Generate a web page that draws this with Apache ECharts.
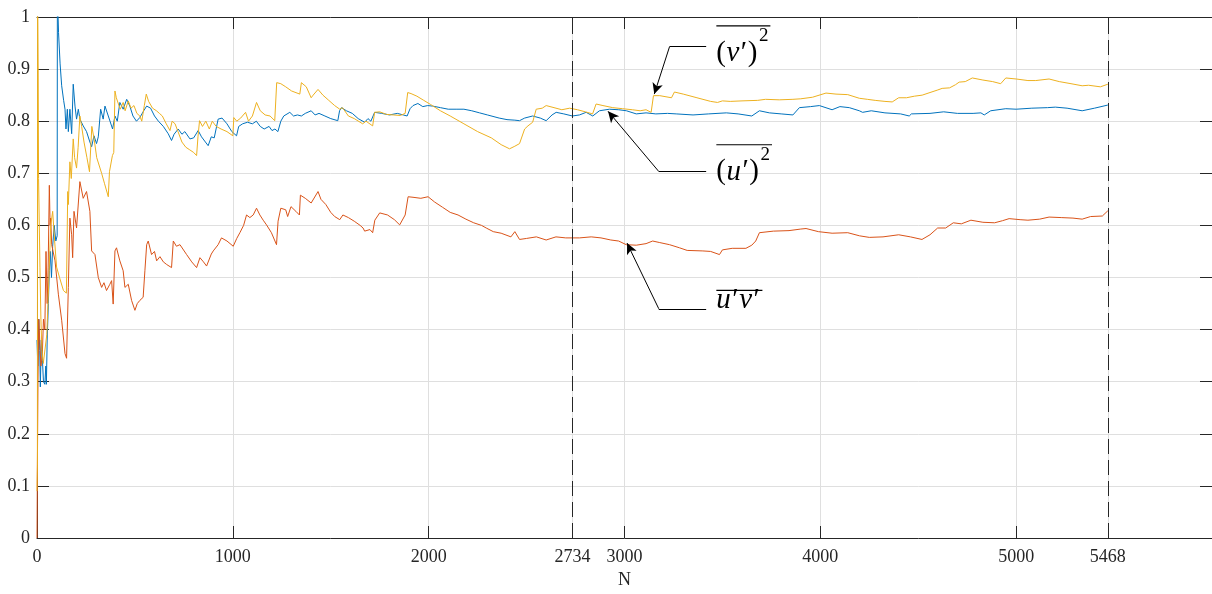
<!DOCTYPE html>
<html>
<head>
<meta charset="utf-8">
<script src="https://cdn.jsdelivr.net/npm/echarts@6/dist/echarts.min.js"></script>
<style>
  html, body { margin: 0; padding: 0; background: #ffffff; }
  #chart { width: 1212px; height: 594px; }
</style>
</head>
<body>
<div id="chart"></div>
<script>
// Tick positions on both axes
const xTicks = [0, 1000, 2000, 2734, 3000, 4000, 5000, 5468];
const yTicks = [0, 0.1, 0.2, 0.3, 0.4, 0.5, 0.6, 0.7, 0.8, 0.9, 1];
// Vertical reference lines (half and full sample count)
const markerN = [2734, 5468];

// Running mean of (u')^2 versus number of samples N
const uuData = [
  [0,0.38],[4,0.33],[9,0.42],[14,0.36],[17,0.29],[22,0.38],[28,0.34],[33,0.3],[40,0.295],[45,0.33],
  [48,0.295],[52,0.38],[58,0.45],[63,0.513],[68,0.55],[74,0.5],[80,0.56],[88,0.6],[96,0.57],[103,0.58],
  [104,1.05],[110,0.97],[118,0.91],[126,0.868],[136,0.84],[143,0.823],[148,0.785],[155,0.823],[160,0.78],[168,0.823],
  [177,0.776],[185,0.871],[194,0.829],[202,0.804],[211,0.823],[219,0.804],[236,0.791],[253,0.78],[270,0.76],[279,0.751],
  [291,0.772],[304,0.757],[313,0.77],[325,0.823],[338,0.804],[347,0.829],[364,0.81],[386,0.785],[398,0.81],[410,0.8],
  [423,0.836],[440,0.823],[458,0.842],[474,0.829],[490,0.81],[508,0.8],[525,0.807],[545,0.82],[560,0.829],[580,0.825],
  [600,0.81],[620,0.8],[645,0.79],[670,0.776],[687,0.763],[700,0.775],[721,0.785],[740,0.775],[755,0.78],[781,0.766],
  [800,0.768],[823,0.782],[840,0.77],[860,0.76],[874,0.753],[890,0.77],[905,0.768],[925,0.804],[945,0.806],[970,0.795],
  [995,0.78],[1019,0.772],[1030,0.79],[1050,0.795],[1075,0.798],[1100,0.795],[1120,0.8],[1140,0.79],[1160,0.785],[1185,0.79],
  [1200,0.782],[1215,0.785],[1230,0.78],[1245,0.8],[1260,0.81],[1291,0.817],[1310,0.81],[1330,0.812],[1350,0.81],[1370,0.815],
  [1400,0.82],[1420,0.812],[1440,0.815],[1470,0.81],[1500,0.805],[1536,0.801],[1545,0.82],[1555,0.826],[1580,0.82],[1610,0.815],
  [1640,0.805],[1673,0.798],[1690,0.805],[1705,0.8],[1724,0.817],[1760,0.815],[1800,0.812],[1840,0.815],[1870,0.812],[1890,0.81],
  [1905,0.824],[1920,0.83],[1945,0.834],[1970,0.828],[1995,0.83],[2020,0.829],[2060,0.826],[2100,0.823],[2140,0.823],[2180,0.823],
  [2220,0.82],[2260,0.816],[2300,0.812],[2360,0.806],[2400,0.803],[2440,0.802],[2464,0.801],[2490,0.806],[2531,0.81],[2570,0.806],
  [2600,0.801],[2630,0.812],[2651,0.817],[2690,0.814],[2734,0.81],[2770,0.812],[2804,0.817],[2838,0.81],[2872,0.82],[2923,0.823],
  [2970,0.822],[3010,0.82],[3060,0.814],[3110,0.816],[3160,0.814],[3220,0.815],[3264,0.814],[3350,0.812],[3430,0.814],[3520,0.816],
  [3580,0.814],[3650,0.81],[3689,0.82],[3740,0.816],[3800,0.814],[3860,0.812],[3893,0.826],[3950,0.828],[3995,0.83],[4060,0.822],
  [4100,0.828],[4148,0.826],[4199,0.82],[4216,0.817],[4260,0.82],[4330,0.816],[4410,0.814],[4454,0.81],[4465,0.814],[4560,0.815],
  [4630,0.818],[4700,0.815],[4780,0.815],[4820,0.816],[4837,0.812],[4870,0.82],[4947,0.824],[5000,0.823],[5080,0.825],[5160,0.826],
  [5200,0.827],[5260,0.825],[5337,0.82],[5400,0.825],[5468,0.831]
];

// Running mean of u'v'
const uvData = [
  [0,0.0],[2,0.14],[5,0.3],[9,0.42],[14,0.38],[20,0.33],[27,0.35],[33,0.42],[40,0.4],[46,0.55],
  [52,0.45],[57,0.52],[60,0.6],[63,0.677],[67,0.6],[70,0.614],[75,0.563],[92,0.532],[109,0.468],[126,0.418],
  [143,0.354],[151,0.345],[160,0.481],[168,0.614],[177,0.582],[182,0.538],[189,0.627],[202,0.595],[219,0.684],[236,0.652],
  [253,0.665],[270,0.627],[279,0.551],[296,0.544],[313,0.5],[330,0.481],[342,0.49],[355,0.475],[372,0.487],[381,0.494],
  [389,0.449],[398,0.551],[406,0.557],[423,0.532],[440,0.513],[449,0.481],[466,0.487],[483,0.456],[500,0.437],[512,0.45],
  [525,0.456],[542,0.462],[551,0.513],[560,0.563],[568,0.57],[585,0.544],[600,0.55],[611,0.532],[628,0.54],[645,0.53],
  [662,0.525],[687,0.519],[696,0.57],[712,0.56],[730,0.563],[764,0.544],[790,0.53],[815,0.519],[832,0.538],[850,0.53],
  [866,0.522],[890,0.545],[900,0.551],[925,0.563],[942,0.576],[970,0.57],[1002,0.56],[1020,0.575],[1036,0.586],[1055,0.6],
  [1070,0.62],[1087,0.615],[1104,0.62],[1121,0.633],[1138,0.62],[1155,0.61],[1172,0.601],[1197,0.586],[1223,0.563],[1231,0.608],
  [1245,0.633],[1270,0.63],[1280,0.617],[1297,0.636],[1322,0.627],[1340,0.62],[1345,0.658],[1370,0.652],[1400,0.643],[1435,0.665],
  [1450,0.65],[1475,0.64],[1500,0.625],[1520,0.617],[1546,0.611],[1562,0.62],[1590,0.615],[1620,0.608],[1650,0.6],[1665,0.595],
  [1673,0.589],[1700,0.592],[1714,0.586],[1725,0.61],[1750,0.624],[1790,0.62],[1825,0.611],[1852,0.601],[1880,0.62],[1895,0.655],
  [1920,0.654],[1960,0.652],[1997,0.655],[2030,0.645],[2070,0.635],[2110,0.625],[2150,0.62],[2190,0.612],[2230,0.605],[2270,0.6],
  [2294,0.595],[2330,0.588],[2370,0.585],[2420,0.578],[2440,0.588],[2464,0.573],[2500,0.575],[2550,0.578],[2600,0.572],[2650,0.578],
  [2700,0.576],[2770,0.576],[2830,0.578],[2880,0.576],[2930,0.572],[2970,0.57],[3009,0.563],[3060,0.562],[3110,0.565],[3144,0.57],
  [3180,0.567],[3230,0.563],[3281,0.557],[3320,0.552],[3400,0.551],[3440,0.55],[3485,0.544],[3500,0.553],[3550,0.556],[3620,0.556],
  [3650,0.562],[3670,0.57],[3689,0.586],[3760,0.589],[3840,0.59],[3900,0.593],[3927,0.594],[3990,0.588],[4060,0.585],[4140,0.586],
  [4200,0.58],[4250,0.577],[4320,0.578],[4400,0.582],[4460,0.578],[4519,0.573],[4560,0.582],[4599,0.595],[4640,0.595],[4679,0.605],
  [4720,0.603],[4769,0.61],[4830,0.606],[4890,0.605],[4930,0.609],[4964,0.613],[5020,0.611],[5060,0.61],[5120,0.612],[5168,0.616],
  [5230,0.615],[5290,0.614],[5337,0.612],[5380,0.617],[5440,0.618],[5468,0.628]
];

// Running mean of (v')^2
const vvData = [
  [0,0.09],[2,0.14],[3,1.05],[6,0.9],[8,0.69],[15,0.52],[20,0.42],[25,0.36],[32,0.335],[50,0.39],
  [60,0.49],[70,0.6],[80,0.627],[90,0.57],[100,0.52],[115,0.5],[135,0.475],[150,0.47],[157,0.665],[160,0.64],
  [168,0.722],[175,0.69],[185,0.766],[192,0.73],[202,0.71],[210,0.75],[219,0.81],[228,0.79],[240,0.76],[255,0.73],
  [268,0.703],[280,0.79],[292,0.765],[305,0.73],[330,0.7],[345,0.68],[364,0.655],[370,0.703],[385,0.734],[392,0.74],
  [398,0.858],[405,0.845],[415,0.842],[425,0.823],[440,0.836],[450,0.82],[466,0.839],[480,0.825],[495,0.83],[510,0.815],
  [525,0.81],[535,0.8],[548,0.83],[558,0.852],[570,0.838],[590,0.825],[610,0.82],[625,0.815],[640,0.81],[660,0.795],
  [679,0.782],[690,0.8],[705,0.795],[720,0.78],[740,0.76],[760,0.75],[780,0.745],[800,0.74],[815,0.734],[822,0.77],
  [830,0.801],[845,0.79],[862,0.8],[880,0.785],[895,0.8],[915,0.79],[940,0.785],[970,0.78],[1000,0.772],[1005,0.807],
  [1020,0.8],[1040,0.806],[1065,0.817],[1080,0.8],[1100,0.81],[1121,0.836],[1140,0.82],[1165,0.812],[1190,0.81],[1214,0.801],
  [1224,0.874],[1245,0.872],[1270,0.866],[1300,0.858],[1342,0.852],[1350,0.874],[1375,0.866],[1400,0.845],[1410,0.85],[1435,0.861],
  [1460,0.85],[1490,0.84],[1520,0.83],[1546,0.823],[1560,0.826],[1590,0.81],[1620,0.805],[1663,0.795],[1680,0.8],[1714,0.791],
  [1724,0.817],[1750,0.818],[1785,0.813],[1820,0.812],[1855,0.811],[1880,0.815],[1893,0.855],[1910,0.853],[1940,0.848],[1975,0.84],
  [2010,0.832],[2060,0.82],[2110,0.81],[2180,0.795],[2250,0.78],[2320,0.768],[2370,0.755],[2413,0.747],[2440,0.752],[2464,0.757],
  [2490,0.785],[2507,0.791],[2531,0.798],[2549,0.823],[2580,0.825],[2600,0.83],[2640,0.826],[2680,0.822],[2720,0.825],[2760,0.822],
  [2800,0.818],[2837,0.814],[2855,0.833],[2890,0.83],[2940,0.826],[2990,0.824],[3040,0.822],[3080,0.82],[3110,0.822],[3136,0.817],
  [3148,0.849],[3180,0.849],[3240,0.845],[3255,0.856],[3300,0.852],[3370,0.845],[3440,0.838],[3475,0.836],[3500,0.839],[3540,0.838],
  [3600,0.839],[3680,0.84],[3720,0.842],[3790,0.841],[3860,0.842],[3900,0.843],[3960,0.846],[4029,0.854],[4080,0.852],[4140,0.851],
  [4199,0.844],[4240,0.842],[4280,0.84],[4330,0.838],[4367,0.837],[4400,0.845],[4440,0.845],[4480,0.848],[4520,0.85],[4560,0.855],
  [4600,0.86],[4622,0.863],[4660,0.864],[4690,0.87],[4709,0.875],[4740,0.876],[4776,0.883],[4830,0.879],[4880,0.876],[4921,0.872],
  [4947,0.883],[5000,0.881],[5060,0.878],[5100,0.878],[5168,0.881],[5220,0.876],[5280,0.872],[5337,0.868],[5370,0.869],[5430,0.866],
  [5468,0.871]
];

// Callouts: arrow tail (right end), knee and head, plus the top-left corner of each label's overline
const callouts = [
  { tail: [3417, 0.943], knee: [3230, 0.943], head: [3152, 0.852], anchor: [3469, 0.983],
    parts: [['(', 0], ['v', 1], ['\u2032', 0], [')', 0]], sup: '2', baseline: 37, supBaseline: 17 },
  { tail: [3417, 0.7035], knee: [3175, 0.7035], head: [2916, 0.819], anchor: [3469, 0.7548],
    parts: [['(', 0], ['u', 1], ['\u2032', 0], [')', 0]], sup: '2', baseline: 37, supBaseline: 17 },
  { tail: [3417, 0.44], knee: [3175, 0.44], head: [3013, 0.566], anchor: [3469, 0.4753],
    parts: [['u', 1], ['\u2032', 0], ['v', 1], ['\u2032', 0]], sup: null, baseline: 20, supBaseline: 0 }
];

const axisColor = '#262626';
const gridColor = '#dfdfdf';
const serif = '"Liberation Serif", "DejaVu Serif", serif';
const tickFont = { fontFamily: serif, fontSize: 18, color: axisColor };

const chart = echarts.init(document.getElementById('chart'), null, { renderer: 'canvas' });

const arrowLines = [];
callouts.forEach(c => {
  arrowLines.push([
    { coord: c.tail, symbol: 'none' },
    { coord: c.knee, symbol: 'none' }
  ]);
  arrowLines.push([
    { coord: c.knee, symbol: 'none' },
    { coord: c.head, symbol: 'arrow', symbolSize: [8, 11] }
  ]);
});

const option = {
  animation: false,
  backgroundColor: '#ffffff',
  grid: { left: 37, top: 17, width: 1176, height: 526, containLabel: false },
  xAxis: [
    {
      type: 'value', position: 'bottom', min: 0, max: 6000, interval: 1000,
      name: 'N', nameLocation: 'middle', nameGap: 33,
      nameTextStyle: { fontFamily: serif, fontSize: 18, color: axisColor },
      axisLine: { show: true, onZero: false, lineStyle: { color: axisColor, width: 1 } },
      axisTick: { show: true, inside: true, length: 12, customValues: xTicks, lineStyle: { color: axisColor } },
      axisLabel: Object.assign({ customValues: xTicks, margin: 10, formatter: v => String(v) }, tickFont),
      splitLine: { show: true, lineStyle: { color: gridColor, width: 1 } }
    },
    {
      type: 'value', position: 'top', min: 0, max: 6000, interval: 1000,
      axisLine: { show: true, onZero: false, lineStyle: { color: axisColor, width: 1 } },
      axisTick: { show: true, inside: true, length: 12, customValues: xTicks, lineStyle: { color: axisColor } },
      axisLabel: { show: false },
      splitLine: { show: false }
    }
  ],
  yAxis: [
    {
      type: 'value', position: 'left', min: 0, max: 1, interval: 0.1,
      axisLine: { show: true, onZero: false, lineStyle: { color: axisColor, width: 1 } },
      axisTick: { show: true, inside: true, length: 12, customValues: yTicks, lineStyle: { color: axisColor } },
      axisLabel: Object.assign({ customValues: yTicks, margin: 7, formatter: v => String(+v.toFixed(1)) }, tickFont),
      splitLine: { show: true, lineStyle: { color: gridColor, width: 1 } }
    },
    {
      type: 'value', position: 'right', min: 0, max: 1, interval: 0.1,
      axisLine: { show: true, onZero: false, lineStyle: { color: axisColor, width: 1 } },
      axisTick: { show: true, inside: true, length: 12, customValues: yTicks, lineStyle: { color: axisColor } },
      axisLabel: { show: false },
      splitLine: { show: false }
    }
  ],
  series: [
    {
      name: "(u')^2", type: 'line', data: uuData, showSymbol: false, symbol: 'none',
      lineStyle: { color: '#0072BD', width: 1 }, itemStyle: { color: '#0072BD' }, clip: true, z: 3
    },
    {
      name: "u'v'", type: 'line', data: uvData, showSymbol: false, symbol: 'none',
      lineStyle: { color: '#D95319', width: 1 }, itemStyle: { color: '#D95319' }, clip: true, z: 3
    },
    {
      name: "(v')^2", type: 'line', data: vvData, showSymbol: false, symbol: 'none',
      lineStyle: { color: '#EDB120', width: 1 }, itemStyle: { color: '#EDB120' }, clip: true, z: 3,
      markLine: {
        silent: true, animation: false, symbol: ['none', 'none'],
        label: { show: false },
        lineStyle: { color: axisColor, width: 1, type: [15, 6] },
        data: markerN.map(n => ({ xAxis: n }))
      }
    },
    {
      name: 'callouts', type: 'line', data: [], showSymbol: false, z: 5,
      markLine: {
        silent: true, animation: false, symbol: ['none', 'none'],
        label: { show: false },
        lineStyle: { color: '#000000', width: 1, type: 'solid' },
        itemStyle: { color: '#000000' },
        emphasis: { disabled: true },
        data: arrowLines
      }
    }
  ]
};

chart.setOption(option);

// Overlined math labels next to each arrow tail
const measureCtx = document.createElement('canvas').getContext('2d');
function textWidth(str, font) { measureCtx.font = font; return measureCtx.measureText(str).width; }

const labelElements = [];
callouts.forEach(c => {
  const p = chart.convertToPixel({ xAxisIndex: 0, yAxisIndex: 0 }, c.anchor);
  const x0 = p[0], y0 = p[1];
  let x = x0;
  const mainSize = 29, supSize = 19;
  c.parts.forEach(([t, italic]) => {
    const font = (italic ? 'italic ' : '') + mainSize + 'px ' + serif;
    labelElements.push({
      type: 'text', x: x, y: y0 + c.baseline - 0.34 * mainSize, silent: true, z: 10,
      style: { text: t, font: font, fill: '#000000', align: 'left', verticalAlign: 'middle',
               textAlign: 'left', textVerticalAlign: 'middle' }
    });
    x += textWidth(t, font) + (italic ? 1.5 : 0.5);
  });
  if (c.sup) {
    const font = supSize + 'px ' + serif;
    x += 1;
    labelElements.push({
      type: 'text', x: x, y: y0 + c.supBaseline - 0.34 * supSize, silent: true, z: 10,
      style: { text: c.sup, font: font, fill: '#000000', align: 'left', verticalAlign: 'middle',
               textAlign: 'left', textVerticalAlign: 'middle' }
    });
    x += textWidth(c.sup, font);
  }
  labelElements.push({
    type: 'line', silent: true, z: 10,
    shape: { x1: x0, y1: y0, x2: x + 2, y2: y0 },
    style: { stroke: '#000000', lineWidth: 1.2 }
  });
});
chart.setOption({ graphic: { elements: labelElements } });
</script>
</body>
</html>
